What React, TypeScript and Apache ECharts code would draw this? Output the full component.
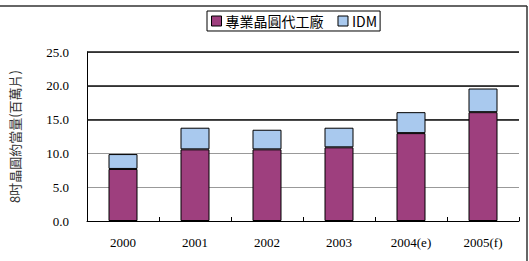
import React, { useEffect, useRef } from "react";
import * as echarts from "echarts";

const categories = ["2000", "2001", "2002", "2003", "2004(e)", "2005(f)"];
const foundry = [7.7, 10.6, 10.6, 10.9, 13.0, 16.1];
const idm = [2.2, 3.2, 2.9, 2.9, 3.1, 3.5];
const seriesNames = ["專業晶圓代工廠", "IDM"];
const yAxisName = "8吋晶圓約當量(百萬片)";
const darkGridValues = [15, 20, 25];

export default function App() {
  const ref = useRef<HTMLDivElement>(null);
  useEffect(() => {
    if (!ref.current) return;
    const chart = echarts.init(ref.current, null, { renderer: "svg" });
    chart.setOption({
      animation: false,
      backgroundColor: "#fff",
      graphic: [
        { type: "line", shape: { x1: 0, y1: 6, x2: 527, y2: 6 }, style: { stroke: "#333", lineWidth: 1.5 } },
        { type: "line", shape: { x1: 527, y1: 6, x2: 527, y2: 261 }, style: { stroke: "#333", lineWidth: 1.5 } },
      ],
      legend: {
        left: 207,
        top: 11,
        data: seriesNames,
        icon: "rect",
        itemWidth: 10,
        itemHeight: 10,
        itemGap: 14,
        padding: [3, 3, 3, 4],
        borderColor: "#000",
        borderWidth: 1,
        textStyle: { fontFamily: "Noto Sans CJK TC", fontSize: 14, color: "#000", padding: [0, 0, 0, -1] },
        itemStyle: { borderColor: "#000", borderWidth: 1 },
      },
      grid: { left: 82, right: 10, top: 52, bottom: 40 },
      xAxis: {
        type: "category",
        data: categories,
        axisLine: { lineStyle: { color: "#000", width: 1 } },
        axisTick: { show: true, inside: true, length: 4, lineStyle: { color: "#000" } },
        axisLabel: { fontFamily: "Liberation Serif", fontSize: 13, color: "#000", margin: 15 },
      },
      yAxis: {
        type: "value",
        min: 0,
        max: 25,
        interval: 5,
        name: yAxisName,
        nameLocation: "middle",
        nameRotate: 90,
        nameGap: 66,
        nameTextStyle: { fontFamily: "Noto Sans CJK TC", fontSize: 13, color: "#333" },
        axisLine: { show: true, lineStyle: { color: "#000", width: 1 } },
        axisTick: { show: false },
        axisLabel: {
          fontFamily: "Liberation Serif",
          fontSize: 13,
          color: "#000",
          margin: 18,
          formatter: (v: number) => v.toFixed(1),
        },
        splitLine: {
          show: true,
          lineStyle: { color: "#999", width: 1 },
        },
      },
      series: [
        {
          name: seriesNames[0],
          type: "bar",
          stack: "total",
          data: foundry,
          barWidth: 29,
          itemStyle: { color: "#9E3F7E", borderColor: "#000", borderWidth: 1 },
          markLine: {
            z: 1,
            silent: true,
            symbol: "none",
            label: { show: false },
            lineStyle: { color: "#111", type: "solid", width: 1.5 },
            data: darkGridValues.map((v) => ({ yAxis: v })),
          },
        },
        {
          name: seriesNames[1],
          type: "bar",
          stack: "total",
          data: idm,
          barWidth: 29,
          itemStyle: { color: "#A9C9EE", borderColor: "#000", borderWidth: 1 },
        },
      ],
    });
    return () => chart.dispose();
  }, []);
  return <div ref={ref} style={{ width: 529, height: 261, position: "absolute", left: 0, top: 0 }} />;
}
